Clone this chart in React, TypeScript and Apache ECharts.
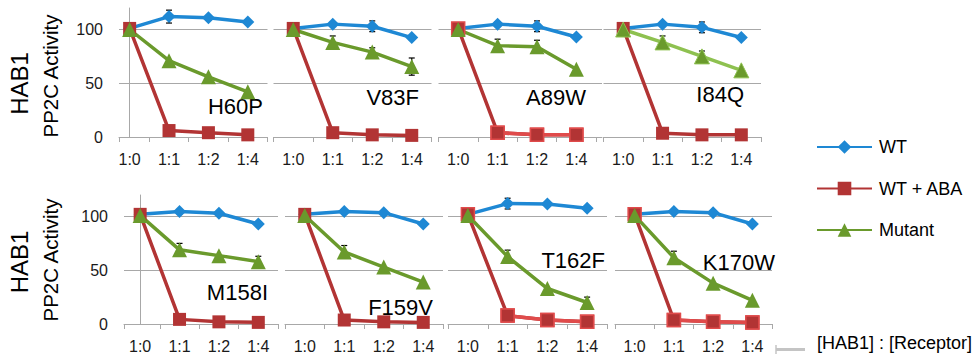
import React, { useEffect, useRef } from 'react';
import * as echarts from 'echarts';

const categories = ['1:0', '1:1', '1:2', '1:4'];
const seriesNames = ['WT', 'WT + ABA', 'Mutant'];
const panelLabels = ['H60P', 'V83F', 'A89W', 'I84Q', 'M158I', 'F159V', 'T162F', 'K170W'];
const yTicks = [0, 50, 100];

const wtValues = [
  [101, 112, 111, 107],
  [101, 105, 103, 92.5],
  [101, 105, 103, 93],
  [101, 105, 102, 92.5],
  [102, 104.6, 103, 93],
  [102, 104.6, 103.6, 93],
  [102, 112, 111.7, 107.7],
  [102, 104.6, 103.6, 93],
];
const wtAbaValues = [
  [101, 6, 4, 2],
  [101, 4, 2, 1.5],
  [101, 4, 2, 2],
  [101, 3.5, 2, 2],
  [102, 4.3, 2, 1.5],
  [102, 3.7, 2, 1.5],
  [102, 7.8, 3.7, 2],
  [102, 3.7, 2, 1.5],
];
const mutantValues = [
  [100, 71, 56, 42],
  [100, 88, 79, 65.5],
  [100, 85, 84, 63],
  [100, 88, 75, 62],
  [101, 69, 63.6, 58],
  [101, 67, 53, 39],
  [101, 62.7, 33, 20],
  [101, 61.7, 38, 22],
];
const wtErrors = [
  [0, 6, 2, 2],
  [0, 2, 5, 2],
  [0, 2, 5, 2],
  [0, 2, 5, 2],
  [0, 2, 2, 2],
  [0, 2, 2, 2],
  [0, 5, 2, 2],
  [0, 2, 2, 2],
];
const mutantErrors = [
  [0, 0, 0, 0],
  [0, 6, 4, 8],
  [0, 6, 6, 0],
  [0, 6, 5, 0],
  [0, 6, 0, 5],
  [0, 6, 0, 0],
  [0, 6, 0, 5],
  [0, 6, 0, 0],
];

const BLUE = '#1E88D4';
const RED = '#B23434';
const LIGHT_RED = '#E04B4B';
const GREEN = '#6A9A2C';
const LIGHT_GREEN = '#8EC150';
const GRID_GRAY = '#A8A8A8';
const FONT = '"Liberation Sans", Arial, sans-serif';
const TEXT = '#1a1a1a';

// layout of the 8 panels (pixels and axis extents)
const panels = [
  { left: 119, top: 8, width: 148.5, xMin: -0.27, xMax: 3.5, showY: true },
  { left: 273.5, top: 8, width: 158, xMin: -0.5, xMax: 3.5, showY: false },
  { left: 438.5, top: 8, width: 163.5, xMin: -0.5, xMax: 3.65, showY: false },
  { left: 603.5, top: 8, width: 157.5, xMin: -0.5, xMax: 3.5, showY: false },
  { left: 124, top: 195, width: 154, xMin: -0.41, xMax: 3.5, showY: true },
  { left: 285, top: 195, width: 158, xMin: -0.5, xMax: 3.5, showY: false },
  { left: 448, top: 195, width: 159, xMin: -0.5, xMax: 3.5, showY: false },
  { left: 615, top: 195, width: 157, xMin: -0.5, xMax: 3.5, showY: false },
];
const PANEL_HEIGHT = 129;
const lightTailPanels = [2, 6, 7];
const lightGreenPanels = [3];

const labelPositions = [
  { x: 263, y: 106 },
  { x: 419, y: 97 },
  { x: 586, y: 97 },
  { x: 744, y: 94 },
  { x: 268, y: 292 },
  { x: 433, y: 307 },
  { x: 605, y: 260 },
  { x: 775, y: 262 },
];
const rowTitles = [
  { hab1Y: 83.5, ppY: 76 },
  { hab1Y: 262, ppY: 260 },
];

function errorRender(params: any, api: any) {
  const x = api.value(0);
  const y = api.value(1);
  const e = api.value(2);
  const top = api.coord([x, y + e]);
  const bot = api.coord([x, y - e]);
  const style = { stroke: '#000', lineWidth: 1.2 };
  return {
    type: 'group',
    children: [
      { type: 'line', shape: { x1: top[0], y1: top[1], x2: bot[0], y2: bot[1] }, style },
      { type: 'line', shape: { x1: top[0] - 3, y1: top[1], x2: top[0] + 3, y2: top[1] }, style },
      { type: 'line', shape: { x1: bot[0] - 3, y1: bot[1], x2: bot[0] + 3, y2: bot[1] }, style },
    ],
  };
}

function buildOption() {
  const grid: any[] = [];
  const xAxis: any[] = [];
  const yAxis: any[] = [];
  const series: any[] = [];

  panels.forEach((p, i) => {
    grid.push({ left: p.left, top: p.top, width: p.width, height: PANEL_HEIGHT });
    const tickVals = [p.xMin, 0.5, 1.5, 2.5, 3.5];
    xAxis.push({
      type: 'value',
      gridIndex: i,
      min: p.xMin,
      max: p.xMax,
      splitLine: { show: false },
      axisLine: { show: true, lineStyle: { color: GRID_GRAY, width: 1 } },
      axisTick: { show: true, customValues: tickVals, length: 5, lineStyle: { color: GRID_GRAY } },
      axisLabel: {
        show: true,
        customValues: [0, 1, 2, 3],
        formatter: (v: number) => categories[Math.round(v)],
        fontSize: 16,
        fontFamily: FONT,
        color: TEXT,
        margin: 14,
      },
    });
    yAxis.push({
      type: 'value',
      gridIndex: i,
      min: 0,
      max: 120,
      interval: 50,
      axisLine: { show: p.showY, lineStyle: { color: GRID_GRAY, width: 1 } },
      axisTick: { show: p.showY, customValues: yTicks, length: 6, lineStyle: { color: GRID_GRAY } },
      axisLabel: {
        show: p.showY,
        customValues: yTicks,
        fontSize: 16,
        fontFamily: FONT,
        color: TEXT,
        margin: 16,
      },
      splitLine: { show: true, lineStyle: { color: GRID_GRAY, width: 1 } },
    });

    const errData: any[] = [];
    wtErrors[i].forEach((e, k) => { if (e > 0) errData.push([k, wtValues[i][k], e]); });
    mutantErrors[i].forEach((e, k) => { if (e > 0) errData.push([k, mutantValues[i][k], e]); });
    series.push({
      type: 'custom',
      name: 'error',
      xAxisIndex: i,
      yAxisIndex: i,
      z: 1,
      silent: true,
      renderItem: errorRender,
      data: errData,
    });

    const pts = (arr: number[]) => arr.map((v, k) => [k, v]);
    series.push({
      type: 'line',
      name: 'WT',
      xAxisIndex: i,
      yAxisIndex: i,
      data: pts(wtValues[i]),
      symbol: 'diamond',
      symbolSize: 13,
      lineStyle: { color: BLUE, width: 3.5 },
      itemStyle: { color: BLUE },
      z: 2,
    });
    const lightTail = lightTailPanels.includes(i);
    series.push({
      type: 'line',
      name: 'WT + ABA',
      xAxisIndex: i,
      yAxisIndex: i,
      data: pts(wtAbaValues[i]),
      symbol: 'rect',
      symbolSize: 13,
      lineStyle: { color: RED, width: 3.5 },
      itemStyle: lightTail ? { color: RED, borderColor: LIGHT_RED, borderWidth: 1.5 } : { color: RED },
      z: 2,
    });
    if (lightTail) {
      series.push({
        type: 'line',
        name: 'WT + ABA tail',
        xAxisIndex: i,
        yAxisIndex: i,
        data: wtAbaValues[i].slice(1).map((v, k) => [k + 1, v]),
        symbol: 'rect',
        symbolSize: 13,
        lineStyle: { color: LIGHT_RED, width: 3.5 },
        itemStyle: { color: RED, borderColor: LIGHT_RED, borderWidth: 1.5 },
        z: 2,
      });
    }
    const lightGreen = lightGreenPanels.includes(i);
    series.push({
      type: 'line',
      name: 'Mutant',
      xAxisIndex: i,
      yAxisIndex: i,
      data: pts(mutantValues[i]),
      symbol: 'triangle',
      symbolSize: 15,
      lineStyle: { color: lightGreen ? LIGHT_GREEN : GREEN, width: 3.5 },
      itemStyle: lightGreen ? { color: GREEN, borderColor: LIGHT_GREEN, borderWidth: 1 } : { color: GREEN },
      z: 2,
    });
  });

  const graphic: any[] = [];
  rowTitles.forEach((r) => {
    graphic.push({
      type: 'text',
      x: 19.5,
      y: r.hab1Y,
      rotation: Math.PI / 2,
      style: {
        text: 'HAB1', fontSize: 24, fontFamily: FONT, fill: '#000',
        align: 'center', verticalAlign: 'middle', textAlign: 'center', textVerticalAlign: 'middle',
      },
    });
    graphic.push({
      type: 'text',
      x: 50.5,
      y: r.ppY,
      rotation: Math.PI / 2,
      style: {
        text: 'PP2C Activity', fontSize: 20.5, fontFamily: FONT, fill: '#000',
        align: 'center', verticalAlign: 'middle', textAlign: 'center', textVerticalAlign: 'middle',
      },
    });
  });
  panelLabels.forEach((t, i) => {
    graphic.push({
      type: 'text',
      x: labelPositions[i].x,
      y: labelPositions[i].y,
      z: 1,
      style: {
        text: t, fontSize: 22, fontFamily: FONT, fill: '#000',
        align: 'right', verticalAlign: 'middle', textAlign: 'right', textVerticalAlign: 'middle',
      },
    });
  });
  graphic.push({
    type: 'line',
    shape: { x1: 776, y1: 349.5, x2: 805, y2: 349.5 },
    style: { stroke: '#C4C4C4', lineWidth: 3 },
  });
  graphic.push({
    type: 'line',
    shape: { x1: 776, y1: 345, x2: 776, y2: 354 },
    style: { stroke: '#C4C4C4', lineWidth: 1.5 },
  });
  graphic.push({
    type: 'text',
    x: 817,
    y: 343,
    style: {
      text: '[HAB1] : [Receptor]', fontSize: 18, fontFamily: FONT, fill: '#000',
      align: 'left', verticalAlign: 'middle', textAlign: 'left', textVerticalAlign: 'middle',
    },
  });

  return {
    animation: false,
    backgroundColor: '#ffffff',
    grid,
    xAxis,
    yAxis,
    series,
    graphic,
    legend: {
      data: seriesNames,
      orient: 'vertical',
      left: 811,
      top: 133,
      itemWidth: 55,
      itemHeight: 17,
      itemGap: 23.5,
      selectedMode: false,
      textStyle: { fontSize: 18, fontFamily: FONT, color: '#000', padding: [0, 0, 0, 2] },
    },
  };
}

export default function App() {
  const ref = useRef<HTMLDivElement>(null);
  useEffect(() => {
    if (!ref.current) return;
    const chart = echarts.init(ref.current, undefined, { renderer: 'svg' });
    chart.setOption(buildOption() as any);
    return () => chart.dispose();
  }, []);
  return (
    <div
      ref={ref}
      style={{ position: 'fixed', left: 0, top: 0, width: 976, height: 360, background: '#fff' }}
    />
  );
}
